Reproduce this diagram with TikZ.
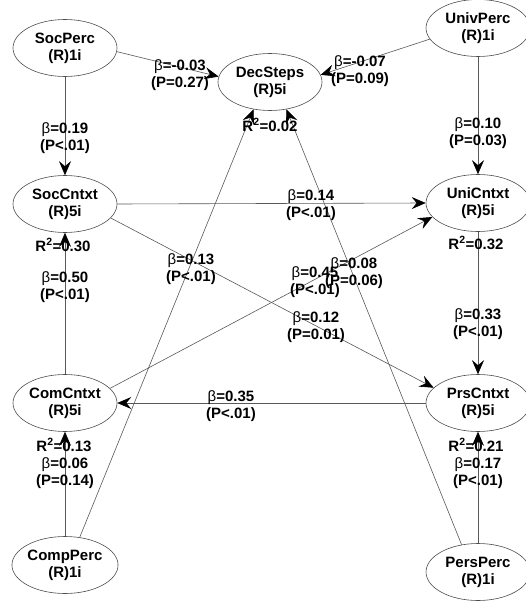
\documentclass[tikz,border=0pt]{standalone}
\usepackage{fontspec}
\setmainfont{Liberation Sans}
\usetikzlibrary{shapes.geometric,arrows.meta}
\begin{document}
\begin{tikzpicture}[x=1pt,y=-1pt,
  latent/.style={ellipse, draw=black!70, line width=0.6pt, minimum width=104pt,
    minimum height=57pt, inner sep=0pt, align=center,
    font=\fontsize{15}{17}\selectfont\bfseries},
  lab/.style={align=center, inner sep=0pt, font=\fontsize{15}{16.5}\selectfont\bfseries},
  conn/.style={draw=black!65, line width=0.6pt,
    -{Stealth[length=14pt,width=12pt,inset=5pt,black]}}]
\fill[white] (0,0) rectangle (525,601);
\useasboundingbox (0,0) rectangle (525,601);
% latent variables
\node[latent] (SocPerc)  at (65,48)   {SocPerc\\(R)1i};
\node[latent] (DecSteps) at (270,82)  {DecSteps\\(R)5i};
\node[latent] (UnivPerc) at (478,28)  {UnivPerc\\(R)1i};
\node[latent] (SocCntxt) at (65,204)  {SocCntxt\\(R)5i};
\node[latent] (UniCntxt) at (478,203) {UniCntxt\\(R)5i};
\node[latent] (ComCntxt) at (65,403)  {ComCntxt\\(R)5i};
\node[latent] (PrsCntxt) at (478,403) {PrsCntxt\\(R)5i};
\node[latent] (CompPerc) at (65,565)  {CompPerc\\(R)1i};
\node[latent] (PersPerc) at (478,572) {PersPerc\\(R)1i};
% paths
\draw[conn] (SocPerc.-4) -- (DecSteps.174);
\draw[conn] (UnivPerc.-167) -- (DecSteps.8);
\draw[conn] (SocPerc.south) -- (SocCntxt.north);
\draw[conn] (UnivPerc.south) -- (UniCntxt.north);
\draw[conn] (SocCntxt.east) -- (UniCntxt.west);
\draw[conn] (SocCntxt.-17) -- (PrsCntxt.161);
\draw[conn] (ComCntxt.18) -- (UniCntxt.-163);
\draw[conn] (CompPerc.62) -- (DecSteps.-121);
\draw[conn] (PersPerc.121) -- (DecSteps.-59);
\draw[conn] (UniCntxt.south) -- (PrsCntxt.north);
\draw[conn] (ComCntxt.north) -- (SocCntxt.south);
\draw[conn] (PrsCntxt.west) -- (ComCntxt.east);
\draw[conn] (CompPerc.north) -- (ComCntxt.south);
\draw[conn] (PersPerc.north) -- (PrsCntxt.south);
% path labels
\node[lab] (l1)  at (180,75)  {\textmd{β}=-0.03\\(P=0.27)};
\node[lab] (l2)  at (360,71)  {\textmd{β}=-0.07\\(P=0.09)};
\node[lab] (l3)  at (65,138)  {\textmd{β}=0.19\\(P<.01)};
\node[lab] (l4)  at (478,133) {\textmd{β}=0.10\\(P=0.03)};
\node[lab] (l5)  at (311,205) {\textmd{β}=0.14\\(P<.01)};
\node[lab] (l6)  at (316,327) {\textmd{β}=0.12\\(P=0.01)};
\node[lab] (l7)  at (315,282) {\textmd{β}=0.45\\(P<.01)};
\node[lab] (l8)  at (191,269) {\textmd{β}=0.13\\(P<.01)};
\node[lab] (l9)  at (354,273) {\textmd{β}=0.08\\(P=0.06)};
\node[lab] (l10) at (478,324) {\textmd{β}=0.33\\(P<.01)};
\node[lab] (l11) at (65,287)  {\textmd{β}=0.50\\(P<.01)};
\node[lab] (l12) at (231,406) {\textmd{β}=0.35\\(P<.01)};
\node[lab] (l13) at (65,473)  {\textmd{β}=0.06\\(P=0.14)};
\node[lab] (l14) at (478,473) {\textmd{β}=0.17\\(P<.01)};
% R-squared labels
\node[lab] (r1) at (270,125) {R\textsuperscript{2}=0.02};
\node[lab] (r2) at (63,245)  {R\textsuperscript{2}=0.30};
\node[lab] (r3) at (476,243) {R\textsuperscript{2}=0.32};
\node[lab] (r4) at (64,445)  {R\textsuperscript{2}=0.13};
\node[lab] (r5) at (476,445) {R\textsuperscript{2}=0.21};
\end{tikzpicture}
\end{document}
